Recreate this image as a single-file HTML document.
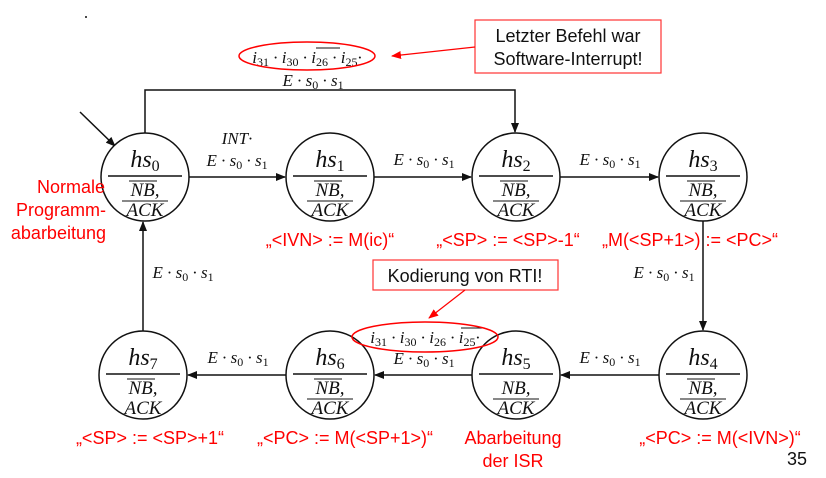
<!DOCTYPE html>
<html><head><meta charset="utf-8">
<style>
html,body{margin:0;padding:0;background:#fff;}
svg{display:block;}
.m{font-family:"Liberation Serif",serif;font-style:italic;fill:#111;}
.u{font-family:"Liberation Serif",serif;font-style:normal;fill:#111;}
.r{font-family:"Liberation Sans",sans-serif;fill:#f00;font-size:18px;}
.b{font-family:"Liberation Sans",sans-serif;fill:#111;font-size:18px;}
</style></head>
<body>
<svg width="826" height="478" viewBox="0 0 826 478" xmlns="http://www.w3.org/2000/svg">
<defs>
<marker id="ah" markerWidth="10" markerHeight="8" refX="9" refY="4" orient="auto" markerUnits="userSpaceOnUse"><path d="M0,0 L10,4 L0,8 z" fill="#111"/></marker>
<marker id="ahr" markerWidth="10" markerHeight="8" refX="9" refY="4" orient="auto" markerUnits="userSpaceOnUse"><path d="M0,0 L10,4 L0,8 z" fill="#f00"/></marker>
</defs>
<circle cx="86" cy="17" r="1" fill="#111"/>

<g stroke="#111" stroke-width="1.5" fill="none">
<line x1="80" y1="112" x2="115" y2="146" marker-end="url(#ah)"/>
<line x1="189" y1="177" x2="285" y2="177" marker-end="url(#ah)"/>
<line x1="374" y1="177" x2="471" y2="177" marker-end="url(#ah)"/>
<line x1="560" y1="177" x2="658" y2="177" marker-end="url(#ah)"/>
<line x1="703" y1="221" x2="703" y2="330" marker-end="url(#ah)"/>
<line x1="659" y1="375" x2="561" y2="375" marker-end="url(#ah)"/>
<line x1="472" y1="375" x2="375" y2="375" marker-end="url(#ah)"/>
<line x1="286" y1="375" x2="188" y2="375" marker-end="url(#ah)"/>
<line x1="143" y1="331" x2="143" y2="222" marker-end="url(#ah)"/>
<polyline points="145,133 145,90 515,90 515,132" marker-end="url(#ah)"/>
</g>

<g>
<circle cx="145" cy="177" r="44" fill="#fff" stroke="#111" stroke-width="1.5"/>
<line x1="108" y1="176" x2="182" y2="176" stroke="#111" stroke-width="1.5"/>
<text x="145" y="167" class="m" font-size="24" text-anchor="middle">hs<tspan class="u" font-size="16" dy="4">0</tspan></text>
<text x="145" y="196" class="m" font-size="19" text-anchor="middle">NB,</text><line x1="129" y1="181" x2="157" y2="181" stroke="#111"/>
<text x="145" y="216" class="m" font-size="19" text-anchor="middle">ACK</text><line x1="122" y1="201" x2="168" y2="201" stroke="#111"/>
</g>
<g>
<circle cx="330" cy="177" r="44" fill="#fff" stroke="#111" stroke-width="1.5"/>
<line x1="293" y1="176" x2="367" y2="176" stroke="#111" stroke-width="1.5"/>
<text x="330" y="167" class="m" font-size="24" text-anchor="middle">hs<tspan class="u" font-size="16" dy="4">1</tspan></text>
<text x="330" y="196" class="m" font-size="19" text-anchor="middle">NB,</text><line x1="314" y1="181" x2="342" y2="181" stroke="#111"/>
<text x="330" y="216" class="m" font-size="19" text-anchor="middle">ACK</text><line x1="307" y1="201" x2="353" y2="201" stroke="#111"/>
</g>
<g>
<circle cx="516" cy="177" r="44" fill="#fff" stroke="#111" stroke-width="1.5"/>
<line x1="479" y1="176" x2="553" y2="176" stroke="#111" stroke-width="1.5"/>
<text x="516" y="167" class="m" font-size="24" text-anchor="middle">hs<tspan class="u" font-size="16" dy="4">2</tspan></text>
<text x="516" y="196" class="m" font-size="19" text-anchor="middle">NB,</text><line x1="500" y1="181" x2="528" y2="181" stroke="#111"/>
<text x="516" y="216" class="m" font-size="19" text-anchor="middle">ACK</text><line x1="493" y1="201" x2="539" y2="201" stroke="#111"/>
</g>
<g>
<circle cx="703" cy="177" r="44" fill="#fff" stroke="#111" stroke-width="1.5"/>
<line x1="666" y1="176" x2="740" y2="176" stroke="#111" stroke-width="1.5"/>
<text x="703" y="167" class="m" font-size="24" text-anchor="middle">hs<tspan class="u" font-size="16" dy="4">3</tspan></text>
<text x="703" y="196" class="m" font-size="19" text-anchor="middle">NB,</text><line x1="687" y1="181" x2="715" y2="181" stroke="#111"/>
<text x="703" y="216" class="m" font-size="19" text-anchor="middle">ACK</text><line x1="680" y1="201" x2="726" y2="201" stroke="#111"/>
</g>
<g>
<circle cx="703" cy="375" r="44" fill="#fff" stroke="#111" stroke-width="1.5"/>
<line x1="666" y1="374" x2="740" y2="374" stroke="#111" stroke-width="1.5"/>
<text x="703" y="365" class="m" font-size="24" text-anchor="middle">hs<tspan class="u" font-size="16" dy="4">4</tspan></text>
<text x="703" y="394" class="m" font-size="19" text-anchor="middle">NB,</text><line x1="687" y1="379" x2="715" y2="379" stroke="#111"/>
<text x="703" y="414" class="m" font-size="19" text-anchor="middle">ACK</text><line x1="680" y1="399" x2="726" y2="399" stroke="#111"/>
</g>
<g>
<circle cx="516" cy="375" r="44" fill="#fff" stroke="#111" stroke-width="1.5"/>
<line x1="479" y1="374" x2="553" y2="374" stroke="#111" stroke-width="1.5"/>
<text x="516" y="365" class="m" font-size="24" text-anchor="middle">hs<tspan class="u" font-size="16" dy="4">5</tspan></text>
<text x="516" y="394" class="m" font-size="19" text-anchor="middle">NB,</text>
<text x="516" y="414" class="m" font-size="19" text-anchor="middle">ACK</text><line x1="493" y1="399" x2="539" y2="399" stroke="#111"/>
</g>
<g>
<circle cx="330" cy="375" r="44" fill="#fff" stroke="#111" stroke-width="1.5"/>
<line x1="293" y1="374" x2="367" y2="374" stroke="#111" stroke-width="1.5"/>
<text x="330" y="365" class="m" font-size="24" text-anchor="middle">hs<tspan class="u" font-size="16" dy="4">6</tspan></text>
<text x="330" y="394" class="m" font-size="19" text-anchor="middle">NB,</text><line x1="314" y1="379" x2="342" y2="379" stroke="#111"/>
<text x="330" y="414" class="m" font-size="19" text-anchor="middle">ACK</text><line x1="307" y1="399" x2="353" y2="399" stroke="#111"/>
</g>
<g>
<circle cx="143" cy="375" r="44" fill="#fff" stroke="#111" stroke-width="1.5"/>
<line x1="106" y1="374" x2="180" y2="374" stroke="#111" stroke-width="1.5"/>
<text x="143" y="365" class="m" font-size="24" text-anchor="middle">hs<tspan class="u" font-size="16" dy="4">7</tspan></text>
<text x="143" y="394" class="m" font-size="19" text-anchor="middle">NB,</text><line x1="127" y1="379" x2="155" y2="379" stroke="#111"/>
<text x="143" y="414" class="m" font-size="19" text-anchor="middle">ACK</text>
</g>

<g class="m" font-size="17">
<text x="237" y="144" text-anchor="middle">INT·</text>
<text x="237" y="166" text-anchor="middle">E · s<tspan class="u" font-size="12" dy="3">0</tspan><tspan dy="-3"> · s</tspan><tspan class="u" font-size="12" dy="3">1</tspan></text>
<text x="424" y="165" text-anchor="middle">E · s<tspan class="u" font-size="12" dy="3">0</tspan><tspan dy="-3"> · s</tspan><tspan class="u" font-size="12" dy="3">1</tspan></text>
<text x="610" y="165" text-anchor="middle">E · s<tspan class="u" font-size="12" dy="3">0</tspan><tspan dy="-3"> · s</tspan><tspan class="u" font-size="12" dy="3">1</tspan></text>
<text x="664" y="278" text-anchor="middle">E · s<tspan class="u" font-size="12" dy="3">0</tspan><tspan dy="-3"> · s</tspan><tspan class="u" font-size="12" dy="3">1</tspan></text>
<text x="610" y="363" text-anchor="middle">E · s<tspan class="u" font-size="12" dy="3">0</tspan><tspan dy="-3"> · s</tspan><tspan class="u" font-size="12" dy="3">1</tspan></text>
<text x="424" y="364" text-anchor="middle">E · s<tspan class="u" font-size="12" dy="3">0</tspan><tspan dy="-3"> · s</tspan><tspan class="u" font-size="12" dy="3">1</tspan></text>
<text x="238" y="363" text-anchor="middle">E · s<tspan class="u" font-size="12" dy="3">0</tspan><tspan dy="-3"> · s</tspan><tspan class="u" font-size="12" dy="3">1</tspan></text>
<text x="183" y="278" text-anchor="middle">E · s<tspan class="u" font-size="12" dy="3">0</tspan><tspan dy="-3"> · s</tspan><tspan class="u" font-size="12" dy="3">1</tspan></text>
<text x="313" y="86" text-anchor="middle">E · s<tspan class="u" font-size="12" dy="3">0</tspan><tspan dy="-3"> · s</tspan><tspan class="u" font-size="12" dy="3">1</tspan></text>
<text x="307" y="63" text-anchor="middle">i<tspan class="u" font-size="12" dy="3">31</tspan><tspan dy="-3"> · i</tspan><tspan class="u" font-size="12" dy="3">30</tspan><tspan dy="-3"> · i</tspan><tspan class="u" font-size="12" dy="3">26</tspan><tspan dy="-3"> · i</tspan><tspan class="u" font-size="12" dy="3">25</tspan><tspan dy="-3">·</tspan></text>
<text x="425" y="343" text-anchor="middle">i<tspan class="u" font-size="12" dy="3">31</tspan><tspan dy="-3"> · i</tspan><tspan class="u" font-size="12" dy="3">30</tspan><tspan dy="-3"> · i</tspan><tspan class="u" font-size="12" dy="3">26</tspan><tspan dy="-3"> · i</tspan><tspan class="u" font-size="12" dy="3">25</tspan><tspan dy="-3">·</tspan></text>
</g>
<line x1="316" y1="48" x2="340" y2="48" stroke="#111"/>
<line x1="461" y1="328" x2="485" y2="328" stroke="#111"/>

<ellipse cx="307" cy="56" rx="68" ry="14" fill="none" stroke="#f00" stroke-width="1.5"/>
<rect x="475" y="20" width="186" height="53" fill="#fff" stroke="#f33" stroke-width="1.2"/>
<text x="568" y="42" class="b" text-anchor="middle">Letzter Befehl war</text>
<text x="568" y="65" class="b" text-anchor="middle">Software-Interrupt!</text>
<line x1="475" y1="47" x2="392" y2="56" stroke="#f00" stroke-width="1.2" marker-end="url(#ahr)"/>

<ellipse cx="425" cy="337" rx="73" ry="15" fill="none" stroke="#f00" stroke-width="1.5"/>
<rect x="373" y="260" width="185" height="30" fill="#fff" stroke="#f33" stroke-width="1.2"/>
<text x="465" y="282" class="b" text-anchor="middle">Kodierung von RTI!</text>
<line x1="465" y1="290" x2="429" y2="318" stroke="#f00" stroke-width="1.2" marker-end="url(#ahr)"/>

<g class="r">
<text x="105" y="193" text-anchor="end">Normale</text>
<text x="106" y="216" text-anchor="end">Programm-</text>
<text x="106" y="239" text-anchor="end">abarbeitung</text>
<text x="330" y="246" text-anchor="middle">„&lt;IVN&gt; := M(ic)“</text>
<text x="508" y="246" text-anchor="middle">„&lt;SP&gt; := &lt;SP&gt;-1“</text>
<text x="690" y="246" text-anchor="middle">„M(&lt;SP+1&gt;) := &lt;PC&gt;“</text>
<text x="150" y="444" text-anchor="middle">„&lt;SP&gt; := &lt;SP&gt;+1“</text>
<text x="345" y="444" text-anchor="middle">„&lt;PC&gt; := M(&lt;SP+1&gt;)“</text>
<text x="513" y="444" text-anchor="middle">Abarbeitung</text>
<text x="513" y="467" text-anchor="middle">der ISR</text>
<text x="720" y="444" text-anchor="middle">„&lt;PC&gt; := M(&lt;IVN&gt;)“</text>
</g>
<text x="797" y="465" class="b" font-size="16" text-anchor="middle">35</text>
</svg>
</body></html>
